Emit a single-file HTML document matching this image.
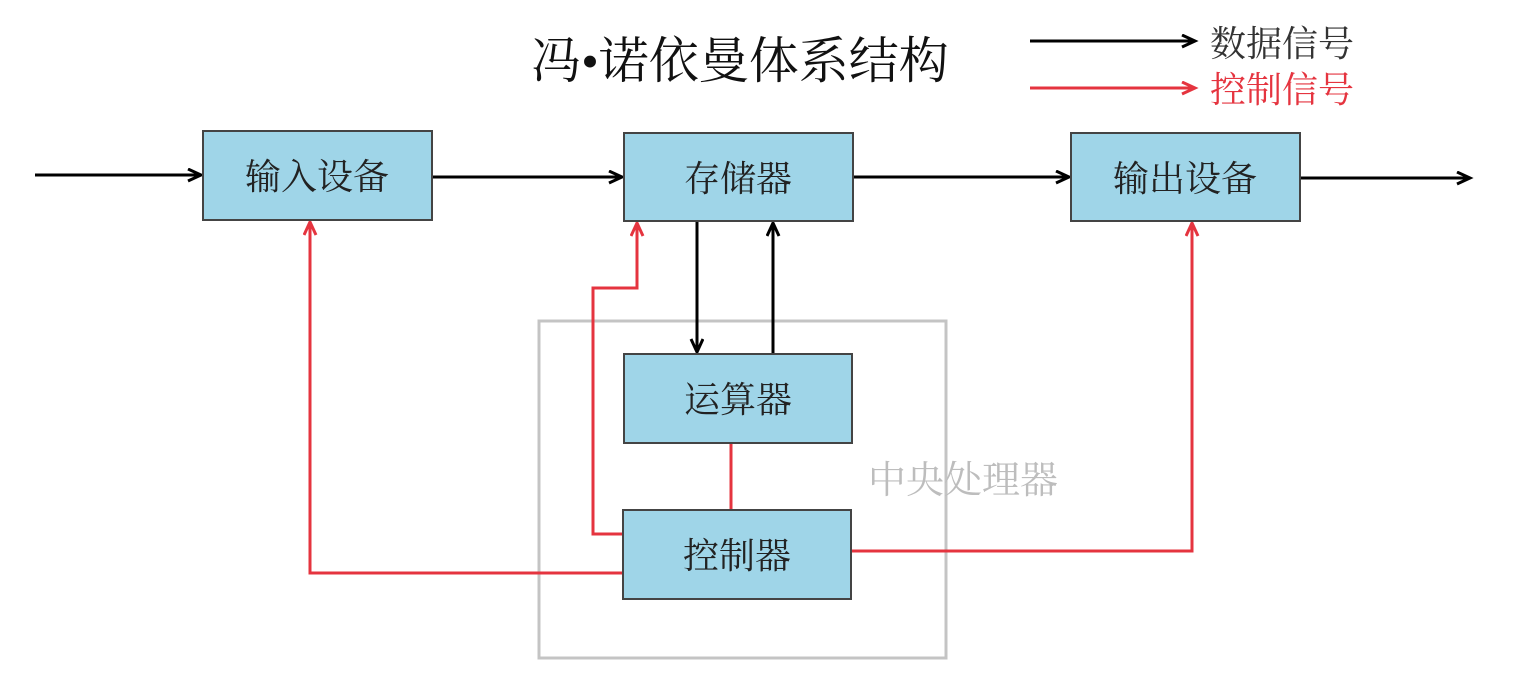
<!DOCTYPE html>
<html><head><meta charset="utf-8"><style>
body{margin:0;background:#fff;width:1514px;height:687px;overflow:hidden}
svg text{font-family:"Liberation Serif","Noto Serif CJK SC",serif}
</style></head><body>
<svg width="1514" height="687" viewBox="0 0 1514 687">
<defs>
<marker id="ab" markerWidth="20" markerHeight="20" refX="14" refY="7" orient="auto" markerUnits="userSpaceOnUse"><path d="M1,1 L14,7 L1,13" fill="none" stroke="#000" stroke-width="3"/></marker>
<marker id="ar" markerWidth="20" markerHeight="20" refX="14" refY="7" orient="auto" markerUnits="userSpaceOnUse"><path d="M1,1 L14,7 L1,13" fill="none" stroke="#e5343f" stroke-width="3"/></marker>
</defs>
<text x="740" y="78" font-size="50" text-anchor="middle" fill="#111">冯•诺依曼体系结构</text>
<line x1="1030" y1="41" x2="1195" y2="41" stroke="#000" stroke-width="3" marker-end="url(#ab)"/>
<line x1="1030" y1="88" x2="1195" y2="88" stroke="#e5343f" stroke-width="3" marker-end="url(#ar)"/>
<text x="1210" y="56" font-size="36" fill="#333">数据信号</text>
<text x="1210" y="102" font-size="36" fill="#e5343f">控制信号</text>
<rect x="539" y="321" width="407" height="337" fill="none" stroke="#c4c4c4" stroke-width="3"/>
<text x="868" y="493" font-size="38" fill="#bdbdbd">中央处理器</text>
<g fill="none" stroke-width="3">
<line x1="35" y1="175" x2="201" y2="175" stroke="#000" marker-end="url(#ab)"/>
<line x1="432" y1="177" x2="622" y2="177" stroke="#000" marker-end="url(#ab)"/>
<line x1="853" y1="177" x2="1069" y2="177" stroke="#000" marker-end="url(#ab)"/>
<line x1="1300" y1="178" x2="1470" y2="178" stroke="#000" marker-end="url(#ab)"/>
<line x1="697" y1="221" x2="697" y2="352" stroke="#000" marker-end="url(#ab)"/>
<line x1="773" y1="354" x2="773" y2="223" stroke="#000" marker-end="url(#ab)"/>
<polyline points="623,573 310,573 310,222" stroke="#e5343f" marker-end="url(#ar)"/>
<polyline points="623,534 593,534 593,288 637,288 637,223" stroke="#e5343f" marker-end="url(#ar)"/>
<line x1="731" y1="443" x2="731" y2="510" stroke="#e5343f"/>
<polyline points="851,551 1192,551 1192,223" stroke="#e5343f" marker-end="url(#ar)"/>
</g>
<g fill="#9fd5e8" stroke="#444" stroke-width="2">
<rect x="203" y="131" width="229" height="89"/>
<rect x="624" y="133" width="229" height="88"/>
<rect x="1071" y="133" width="229" height="88"/>
<rect x="624" y="354" width="228" height="89"/>
<rect x="623" y="510" width="228" height="89"/>
</g>
<g font-size="36" text-anchor="middle" fill="#222">
<text x="317" y="189">输入设备</text>
<text x="738" y="191">存储器</text>
<text x="1185" y="191">输出设备</text>
<text x="738" y="412">运算器</text>
<text x="737" y="568">控制器</text>
</g>
</svg>
</body></html>
